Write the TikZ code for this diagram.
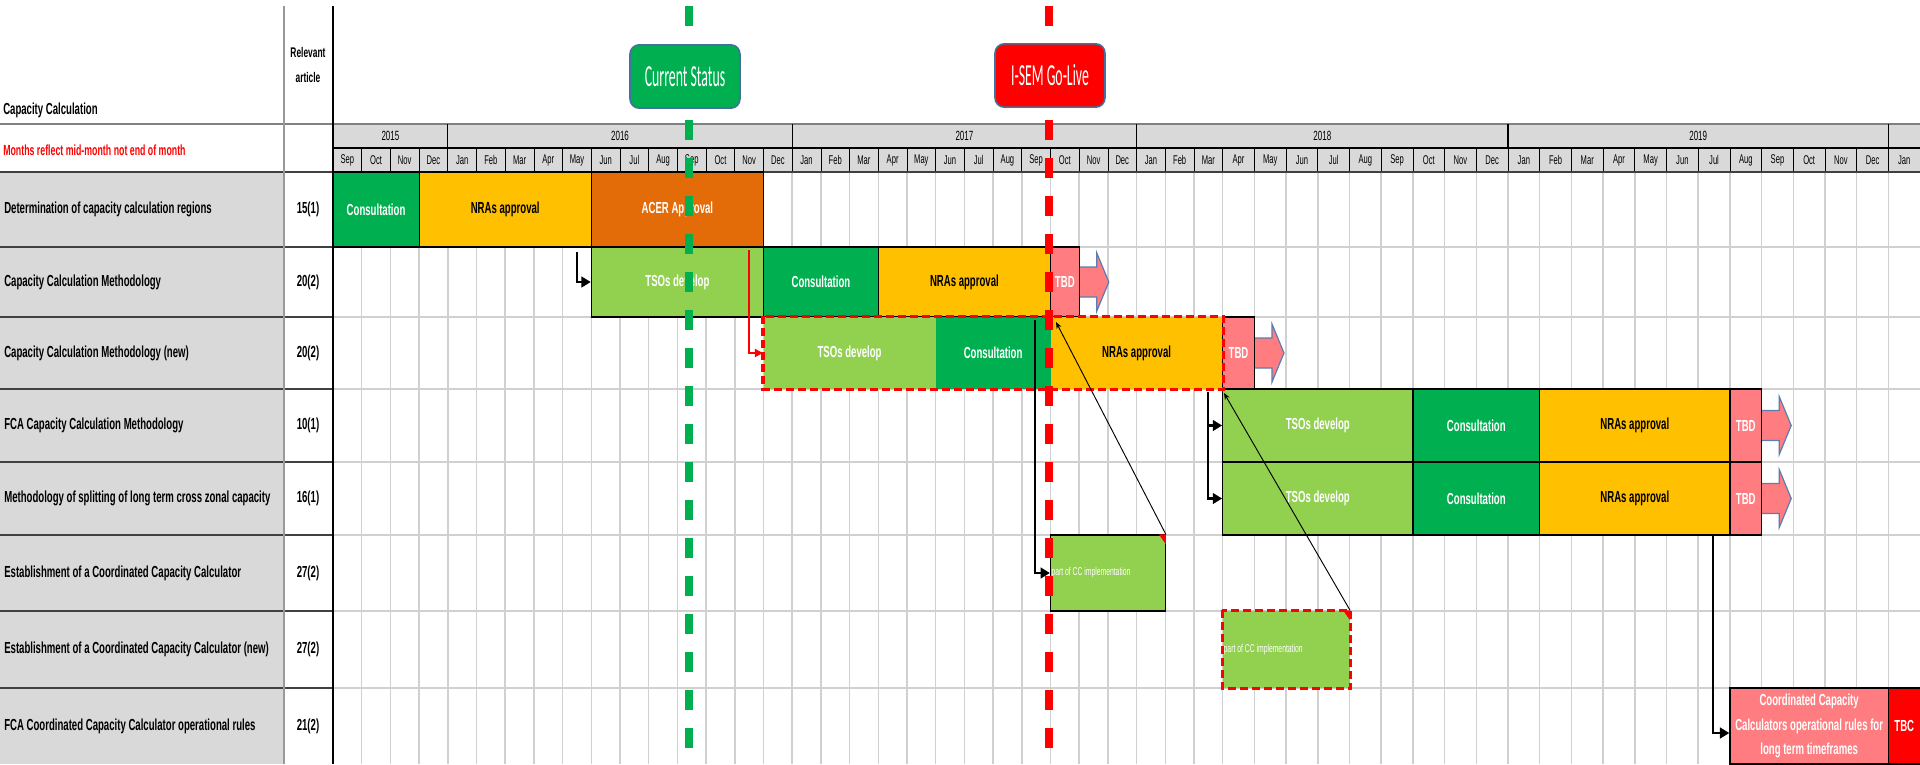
\documentclass[tikz,border=0pt]{standalone}
\usepackage{fontspec}
\setmainfont{Liberation Sans}[FakeStretch=0.6]
\newfontfamily\calloutfont{Carlito}[FakeStretch=0.45]
\usepackage{tikz}
\usetikzlibrary{fit,calc,arrows.meta}

\definecolor{cons}{HTML}{00B050}
\definecolor{tsodev}{HTML}{92D050}
\definecolor{nraok}{HTML}{FFC000}
\definecolor{acerok}{HTML}{E36C09}
\definecolor{tbdpink}{HTML}{FF7C80}
\definecolor{tbcred}{HTML}{FF0000}
\definecolor{labelgray}{HTML}{D9D9D9}
\definecolor{gridgray}{HTML}{D0D0D0}
\definecolor{rulegray}{HTML}{404040}
\definecolor{arrowblue}{HTML}{5B7DB1}
\definecolor{calloutedge}{HTML}{41719C}

\pgfmathdeclarefunction{mx}{1}{\pgfmathparse{(#1<=31)*(333+28.7*#1)+(#1>31)*(1222.7+31.7*(#1-31))}}
\newcommand{\mthlabel}[1]{\ifcase#1 Jan\or Feb\or Mar\or Apr\or May\or Jun\or Jul\or Aug\or Sep\or Oct\or Nov\or Dec\fi}
\newcommand{\mkbar}[7]{%
  \node[#2, fit={({mx(#3)},#5) ({mx(#4)},#6)}] (#1) {};
  \node[#2, bartext] (#1Txt) at (#1.center) {#7};}

\tikzset{
  bar/.style={draw=black, line width=0.9pt, inner sep=0pt, font=\bfseries\fontsize{12}{14}\selectfont},
  bartext/.style={draw=none, fill=none, inner sep=0pt, minimum size=0pt},
  consbar/.style={bar, fill=cons, text=white},
  tsobar/.style={bar, fill=tsodev, text=white},
  nrabar/.style={bar, fill=nraok, text=black},
  acerbar/.style={bar, fill=acerok, text=white},
  tbdbar/.style={bar, fill=tbdpink, text=white},
  tbcbar/.style={bar, fill=tbcred, text=white},
  implnote/.style={anchor=west, inner sep=1pt, text=white, font=\fontsize{8.5}{10}\selectfont},
  rowlabel/.style={anchor=west, inner sep=0pt, font=\bfseries\fontsize{12}{14}\selectfont},
  artlabel/.style={inner sep=0pt, font=\bfseries\fontsize{12}{14}\selectfont},
  mthtext/.style={inner sep=0pt, font=\fontsize{9.5}{11}\selectfont},
  yeartext/.style={inner sep=0pt, font=\fontsize{10}{11}\selectfont},
  reddash/.style={draw=red, line width=2.4pt, dash pattern=on 6pt off 3pt},
  elbow/.style={draw=black, line width=2.2pt, -{Triangle[length=7pt,width=8pt]}},
  redelbow/.style={draw=red, line width=1.6pt, -{Triangle[length=6pt,width=6pt]}},
  thinarrow/.style={draw=black, line width=0.7pt, -{Stealth[length=5pt,width=4pt]}},
  statusline/.style={line width=6pt, dash pattern=on 15pt off 13.5pt},
  callout/.style={rounded corners=7pt, draw=calloutedge, line width=1.2pt, text=white,
    minimum width=82.5pt, minimum height=47.5pt, inner sep=0pt,
    font=\calloutfont\fontsize{23}{26}\selectfont},
  tbdarrow/.pic={\filldraw[fill=tbdpink, draw=arrowblue, line width=0.9pt]
    (0,-15) -- (17,-15) -- (17,-29) -- (29,0) -- (17,29) -- (17,15) -- (0,15);}
}

\begin{document}
\begin{tikzpicture}[x=0.75pt, y=-0.75pt]
\useasboundingbox (0,0) rectangle (1920,764);
\fill[white] (0,0) rectangle (1920,764);
\fill[labelgray] (0,172) rectangle (284,764);
\fill[labelgray] (333,124) rectangle (1920,172);

\foreach \m in {1,...,52} \draw[gridgray, line width=1.1pt] ({mx(\m)},172) -- ({mx(\m)},764);
\foreach \y in {247,317,389,462,535,611,688} {
  \draw[gridgray, line width=2.2pt] (333,\y) -- (1920,\y);
  \draw[rulegray, line width=2pt] (0,\y) -- (333,\y);
}
\draw[gray, line width=1.5pt] (0,124) -- (1920,124);
\draw[black, line width=0.8pt] (333,148) -- (1920,148);
\foreach \m in {1,...,52} \draw[black, line width=0.6pt] ({mx(\m)},148) -- ({mx(\m)},172);
\foreach \m in {4,16,28,40,52} \draw[black, line width=0.8pt] ({mx(\m)},124) -- ({mx(\m)},148);
\draw[rulegray, line width=2.2pt] (0,172) -- (1920,172);
\draw[gray!80, line width=1.3pt] (284,6) -- (284,764);
\draw[black, line width=1pt] (333,6) -- (333,764);

\foreach \m in {0,...,52} {
  \pgfmathtruncatemacro\k{mod(\m+8,12)}
  \node[mthtext] (mon\m) at ({(mx(\m)+mx(\m+1))/2},160) {\mthlabel{\k}};
}
\foreach \a/\b/\yr in {0/4/2015,4/16/2016,16/28/2017,28/40/2018,40/52/2019}
  \node[yeartext] (yr\yr) at ({(mx(\a)+mx(\b))/2},136) {\yr};

\node[rowlabel] (capcalc) at (3,110) {Capacity Calculation};
\node[artlabel, align=center, font=\bfseries\fontsize{10.5}{18.5}\selectfont] (relart) at (308,65) {Relevant\\article};
\node[rowlabel, text=red, font=\bfseries\fontsize{11}{12}\selectfont] (note) at (3,150) {Months reflect mid-month not end of month};

\foreach \n/\yc/\txt/\art in {
  1/209.5/Determination of capacity calculation regions/15(1),
  2/282/Capacity Calculation Methodology/20(2),
  3/353/Capacity Calculation Methodology (new)/20(2),
  4/425.5/FCA Capacity Calculation Methodology/10(1),
  5/498.5/Methodology of splitting of long term cross zonal capacity/16(1),
  6/573/Establishment of a Coordinated Capacity Calculator/27(2),
  7/649.5/Establishment of a Coordinated Capacity Calculator (new)/27(2),
  8/726/FCA Coordinated Capacity Calculator operational rules/21(2)} {
  \node[rowlabel] (lab\n) at (4,\yc) {\txt};
  \node[artlabel] (art\n) at (308,\yc) {\art};
}

\mkbar{detCons}{consbar}{0}{3}{172}{247}{Consultation}
\mkbar{detNRA}{nrabar}{3}{9}{172}{247}{NRAs approval}
\mkbar{detACER}{acerbar}{9}{15}{172}{247}{ACER Approval}

\mkbar{ccmTSO}{tsobar}{9}{15}{247}{317}{TSOs develop}
\mkbar{ccmCons}{consbar}{15}{19}{247}{317}{Consultation}
\mkbar{ccmNRA}{nrabar}{19}{25}{247}{317}{NRAs approval}
\mkbar{ccmTBD}{tbdbar}{25}{26}{247}{317}{TBD}

\mkbar{ccmnTSO}{tsobar, draw=none}{15}{21}{317}{389}{TSOs develop}
\mkbar{ccmnCons}{consbar, draw=none}{21}{25}{317}{389}{Consultation}
\mkbar{ccmnNRA}{nrabar, draw=none}{25}{31}{317}{389}{NRAs approval}
\mkbar{ccmnTBD}{tbdbar}{31}{32}{317}{389}{TBD}

\mkbar{fcaTSO}{tsobar}{31}{37}{389}{462}{TSOs develop}
\mkbar{fcaCons}{consbar}{37}{41}{389}{462}{Consultation}
\mkbar{fcaNRA}{nrabar}{41}{47}{389}{462}{NRAs approval}
\mkbar{fcaTBD}{tbdbar}{47}{48}{389}{462}{TBD}

\mkbar{splTSO}{tsobar}{31}{37}{462}{535}{TSOs develop}
\mkbar{splCons}{consbar}{37}{41}{462}{535}{Consultation}
\mkbar{splNRA}{nrabar}{41}{47}{462}{535}{NRAs approval}
\mkbar{splTBD}{tbdbar}{47}{48}{462}{535}{TBD}

\mkbar{cccImpl}{tsobar}{25}{29}{535}{611}{}
\mkbar{cccNew}{tsobar, draw=none}{31}{35}{611}{688}{}
\node[implnote] (cccImplNote) at (cccImpl.west) {part of CC implementation};
\node[implnote] (cccNewNote) at (cccNew.west) {part of CC implementation};

\mkbar{opRules}{tbdbar, align=center, font=\bfseries\fontsize{12}{18.5}\selectfont}{47}{52}{688}{764}{Coordinated Capacity\\Calculators operational rules for\\long term timeframes}
\mkbar{opTBC}{tbcbar}{52}{53}{688}{764}{TBC}

\draw[reddash] (ccmnTSO.north west) rectangle (ccmnNRA.south east);
\draw[reddash] (cccNew.north west) rectangle (cccNew.south east);

\pic at (ccmTBD.east) {tbdarrow};
\pic at (ccmnTBD.east) {tbdarrow};
\pic at (fcaTBD.east) {tbdarrow};
\pic at (splTBD.east) {tbdarrow};

\coordinate (k1) at (577,252);
\coordinate (k2) at (749,250);
\coordinate (k3) at (1035,320);
\coordinate (k4) at (1208,392);
\coordinate (k5) at (1713,535);
\draw[elbow] (k1) |- (ccmTSO.west);
\draw[redelbow] (k2) |- (ccmnTSO.west);
\draw[elbow] (k3) |- (cccImpl.west);
\draw[elbow] (k4) |- (fcaTSO.west);
\draw[elbow] (k4) |- (splTSO.west);
\draw[elbow] (k5) |- ([yshift=-5.25pt]opRules.west);

\coordinate (t1) at (1056,322);
\coordinate (t2) at (1224,393);
\draw[thinarrow] (cccImpl.north east) -- (t1);
\draw[thinarrow] (cccNew.north east) -- (t2);

\fill[red] ($(cccImpl.north east)+(-7,0)$) -- (cccImpl.north east) -- ($(cccImpl.north east)+(0,10)$) -- cycle;
\fill[red] ($(cccNew.north east)+(-7,0)$) -- (cccNew.north east) -- ($(cccNew.north east)+(0,10)$) -- cycle;

\coordinate (nowTop) at (689,6);
\coordinate (nowBot) at (689,764);
\coordinate (liveTop) at (1049,6);
\coordinate (liveBot) at (1049,764);
\draw[statusline, cons] (nowTop) -- (nowBot);
\draw[statusline, tbcred] (liveTop) -- (liveBot);

\node[callout, fill=cons] (nowBox) at (685,76.5) {Current Status};
\node[callout, fill=tbcred] (liveBox) at (1050,75.5) {I-SEM Go-Live};
\end{tikzpicture}
\end{document}
